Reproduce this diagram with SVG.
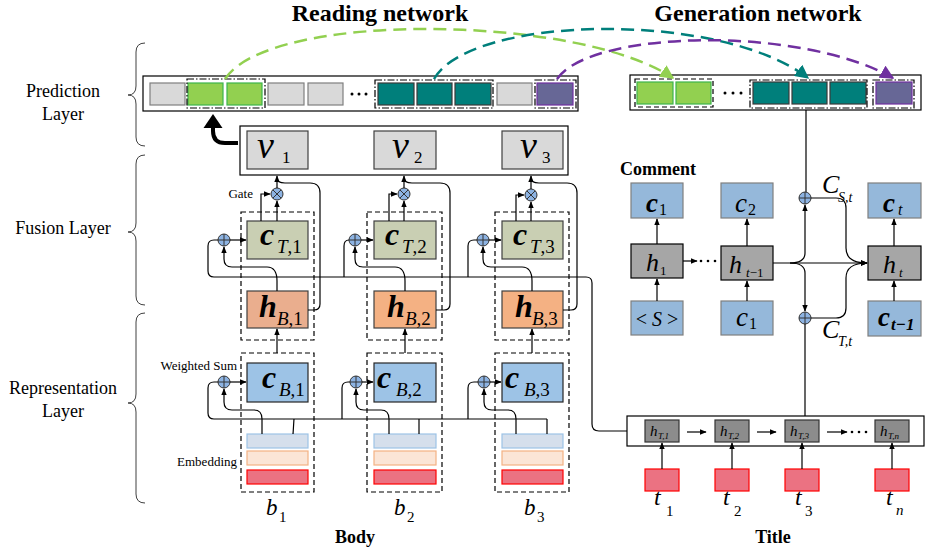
<svg xmlns="http://www.w3.org/2000/svg" width="925" height="553" viewBox="0 0 925 553" font-family="'Liberation Serif', 'Times New Roman', Times, 'DejaVu Serif', serif">
<style>
text{font-family:"Liberation Serif","Times New Roman",Times,"DejaVu Serif",serif;fill:#000}
.h1{font-size:24px;font-weight:bold;text-anchor:middle}
.lay{font-size:18px;text-anchor:middle}
.sm{font-size:13px;text-anchor:end}
.it{font-style:italic}
.bi{font-style:italic;font-weight:bold}
.ln{fill:none;stroke:#000;stroke-width:1.2}
.arw{fill:none;stroke:#000;stroke-width:1.2;marker-end:url(#ah)}
.cg{fill:#d9d9d9;stroke:#7f7f7f;stroke-width:1.2}
.cgr{fill:#92d050;stroke:#3cb54a;stroke-width:1.2}
.ctl{fill:#007f7b;stroke:#3a3a3a;stroke-width:1.2}
.cp{fill:#676796;stroke:#7030a0;stroke-width:1.2}
.dd{fill:none;stroke:#000;stroke-width:1.2;stroke-dasharray:7 2 1.5 2}
.dash{fill:none;stroke:#000;stroke-width:1.2;stroke-dasharray:5 3}
.vbox{fill:#d9d9d9;stroke:#404040;stroke-width:1.2}
.ct{fill:#c9cfb3;stroke:#404040;stroke-width:1.2}
.hb{fill:#f4b183;stroke:#404040;stroke-width:1.2}
.cb{fill:#9dc3e6;stroke:#262626;stroke-width:1.2}
.e1{fill:#d5dfec;stroke:#9dc3e6;stroke-width:1.2}
.e2{fill:#fbe5d6;stroke:#f4b183;stroke-width:1.2}
.e3{fill:#eb7282;stroke:#ff0000;stroke-width:1.2}
.bl{fill:#95b8da;stroke:#7f7f7f;stroke-width:1.2}
.hg{fill:#a6a6a6;stroke:#000;stroke-width:1.2}
.ht{fill:#8c8c8c;stroke:#333;stroke-width:1.2}
.brace{fill:none;stroke:#404040;stroke-width:1}
.arc{fill:none;stroke-width:2.5;stroke-dasharray:13 7}
</style>
<defs>
<marker id="ah" viewBox="0 0 10 10" refX="9" refY="5" markerWidth="7" markerHeight="7" markerUnits="userSpaceOnUse" orient="auto"><path d="M0,1 L10,5 L0,9z" fill="#000"/></marker>
<marker id="agr" viewBox="0 0 10 10" refX="9" refY="5" markerWidth="14" markerHeight="14" markerUnits="userSpaceOnUse" orient="auto"><path d="M0,0 L10,5 L0,10z" fill="#92d050"/></marker>
<marker id="atl" viewBox="0 0 10 10" refX="9" refY="5" markerWidth="14" markerHeight="14" markerUnits="userSpaceOnUse" orient="auto"><path d="M0,0 L10,5 L0,10z" fill="#007f7b"/></marker>
<marker id="apu" viewBox="0 0 10 10" refX="9" refY="5" markerWidth="14" markerHeight="14" markerUnits="userSpaceOnUse" orient="auto"><path d="M0,0 L10,5 L0,10z" fill="#7030a0"/></marker>
<g id="op"><circle r="6" fill="#8db3e2" stroke="#333" stroke-width="1"/><path d="M-6,0H6M0,-6V6" stroke="#333" stroke-width="1"/></g>
<g id="ox"><circle r="6" fill="#8db3e2" stroke="#333" stroke-width="1"/><path d="M-4.2,-4.2L4.2,4.2M-4.2,4.2L4.2,-4.2" stroke="#333" stroke-width="1"/></g>
</defs>
<rect width="925" height="553" fill="#fff"/>

<g id="titles">
<text class="h1" x="380" y="21">Reading network</text>
<text class="h1" x="758" y="21">Generation network</text>
</g>

<g id="layer-labels">
<text class="lay" x="63" y="97">Prediction</text>
<text class="lay" x="63" y="120">Layer</text>
<text class="lay" x="63" y="234">Fusion Layer</text>
<text class="lay" x="63" y="394">Representation</text>
<text class="lay" x="63" y="417">Layer</text>
<path class="brace" d="M145,43 Q136,43 136,52 V86 Q136,95 128,95 Q136,95 136,104 V137 Q136,146 145,146"/>
<path class="brace" d="M145,155 Q136,155 136,164 V223 Q136,232 128,232 Q136,232 136,241 V296 Q136,305 145,305"/>
<path class="brace" d="M145,313 Q136,313 136,322 V394 Q136,403 128,403 Q136,403 136,412 V494 Q136,503 145,503"/>
</g>

<g id="pred-read">
<rect x="143" y="76" width="435" height="35" fill="#fff" stroke="#000" stroke-width="1.2"/>
<rect class="cg" x="150" y="83" width="35" height="22"/>
<rect class="cgr" x="188" y="83" width="35" height="22"/>
<rect class="cgr" x="227" y="83" width="35" height="22"/>
<rect class="dd" x="187" y="79" width="78" height="29"/>
<rect class="cg" x="268" y="83" width="36" height="22"/>
<rect class="cg" x="308" y="83" width="35" height="22"/>
<circle cx="352" cy="94" r="1.5"/><circle cx="359" cy="94" r="1.5"/><circle cx="366" cy="94" r="1.5"/>
<rect class="ctl" x="378" y="83" width="36" height="22"/>
<rect class="ctl" x="417" y="83" width="35" height="22"/>
<rect class="ctl" x="455" y="83" width="36" height="22"/>
<rect class="dd" x="375" y="80" width="118" height="28"/>
<rect class="cg" x="497" y="83" width="35" height="22"/>
<rect class="cp" x="537" y="83" width="36" height="22"/>
<rect class="dd" x="535" y="80" width="41" height="28"/>
</g>

<g id="pred-gen">
<rect x="630" y="75" width="291" height="35" fill="#fff" stroke="#000" stroke-width="1.2"/>
<rect class="cgr" x="637" y="82" width="36" height="22"/>
<rect class="cgr" x="676" y="82" width="35" height="22"/>
<rect class="dash" x="635" y="79" width="78" height="28"/>
<circle cx="725" cy="93" r="1.5"/><circle cx="733" cy="93" r="1.5"/><circle cx="741" cy="93" r="1.5"/>
<rect class="ctl" x="753" y="82" width="36" height="22"/>
<rect class="ctl" x="792" y="82" width="35" height="22"/>
<rect class="ctl" x="830" y="82" width="36" height="22"/>
<rect class="dd" x="750" y="80" width="117" height="28"/>
<rect class="cp" x="876" y="82" width="36" height="22"/>
<rect class="dd" x="873" y="80" width="41" height="28"/>
</g>

<g id="fusion-output">
<rect x="240" y="126" width="328" height="49" fill="#fff" stroke="#000" stroke-width="1.2"/>
</g>

<g id="col1">
<rect class="vbox" x="247" y="131" width="61" height="38"/>
<text class="it" x="257" y="158" font-size="38">v</text><text x="282" y="163" font-size="17">1</text>
<rect class="dash" x="241" y="212" width="73" height="128"/>
<rect class="ct" x="247" y="221" width="61" height="38"/>
<text class="bi" x="260" y="245" font-size="32">c</text><text x="277" y="253" font-size="19"><tspan class="it">T</tspan>,1</text>
<rect class="hb" x="247" y="291" width="61" height="37" style="fill:#eaae8e"/>
<text class="bi" x="259" y="317" font-size="32">h</text><text x="277" y="325" font-size="19"><tspan class="it">B</tspan>,1</text>
<rect class="dash" x="241" y="353" width="73" height="139"/>
<rect class="cb" x="247" y="363" width="61" height="39"/>
<text class="bi" x="262" y="388" font-size="32">c</text><text x="279" y="396" font-size="19"><tspan class="it">B</tspan>,1</text>
<rect class="e1" x="247" y="434" width="61" height="14"/>
<rect class="e2" x="247" y="451" width="61" height="14"/>
<rect class="e3" x="247" y="470" width="61" height="14"/>
<text class="it" x="266" y="515" font-size="23">b</text><text x="279" y="522" font-size="15">1</text>
</g>

<g id="col2">
<rect class="vbox" x="374" y="131" width="62" height="38"/>
<text class="it" x="392" y="158" font-size="38">v</text><text x="414" y="163" font-size="17">2</text>
<rect class="dash" x="367" y="212" width="75" height="128"/>
<rect class="ct" x="374" y="221" width="62" height="38"/>
<text class="bi" x="385" y="245" font-size="32">c</text><text x="402" y="253" font-size="19"><tspan class="it">T</tspan>,2</text>
<rect class="hb" x="374" y="291" width="62" height="37"/>
<text class="bi" x="387" y="317" font-size="32">h</text><text x="405" y="325" font-size="19"><tspan class="it">B</tspan>,2</text>
<rect class="dash" x="367" y="353" width="75" height="139"/>
<rect class="cb" x="374" y="363" width="62" height="39"/>
<text class="bi" x="377" y="388" font-size="32">c</text><text x="396" y="396" font-size="19"><tspan class="it">B</tspan>,2</text>
<rect class="e1" x="374" y="434" width="62" height="14"/>
<rect class="e2" x="374" y="451" width="62" height="14"/>
<rect class="e3" x="374" y="470" width="62" height="14"/>
<text class="it" x="394" y="515" font-size="23">b</text><text x="407" y="522" font-size="15">2</text>
</g>

<g id="col3">
<rect class="vbox" x="502" y="131" width="61" height="38"/>
<text class="it" x="520" y="158" font-size="38">v</text><text x="542" y="163" font-size="17">3</text>
<rect class="dash" x="495" y="212" width="74" height="128"/>
<rect class="ct" x="502" y="221" width="61" height="38"/>
<text class="bi" x="513" y="245" font-size="32">c</text><text x="530" y="253" font-size="19"><tspan class="it">T</tspan>,3</text>
<rect class="hb" x="502" y="291" width="61" height="37"/>
<text class="bi" x="515" y="317" font-size="32">h</text><text x="532" y="325" font-size="19"><tspan class="it">B</tspan>,3</text>
<rect class="dash" x="495" y="353" width="74" height="139"/>
<rect class="cb" x="502" y="363" width="61" height="39"/>
<text class="bi" x="505" y="388" font-size="32">c</text><text x="524" y="396" font-size="19"><tspan class="it">B</tspan>,3</text>
<rect class="e1" x="502" y="434" width="61" height="14"/>
<rect class="e2" x="502" y="451" width="61" height="14"/>
<rect class="e3" x="502" y="470" width="61" height="14"/>
<text class="it" x="524" y="515" font-size="23">b</text><text x="537" y="522" font-size="15">3</text>
</g>

<g id="side-labels">
<text class="sm" x="253" y="198">Gate</text>
<text class="sm" x="237" y="370">Weighted Sum</text>
<text class="sm" x="237" y="466">Embedding</text>
<text x="355" y="543" font-size="18" font-weight="bold" text-anchor="middle">Body</text>
<text x="773" y="543" font-size="18" font-weight="bold" text-anchor="middle">Title</text>
<text x="620" y="175" font-size="18" font-weight="bold">Comment</text>
</g>

<g id="comment">
<rect class="bl" x="631" y="183" width="52" height="35"/>
<text class="bi" x="646" y="212" font-size="27">c</text><text x="659" y="215" font-size="16">1</text>
<rect class="bl" x="721" y="183" width="52" height="35"/>
<text class="it" x="735" y="212" font-size="27">c</text><text x="748" y="215" font-size="16">2</text>
<rect class="bl" x="868" y="183" width="53" height="35"/>
<text class="bi" x="883" y="212" font-size="27">c</text><text class="it" x="898" y="215" font-size="16">t</text>
<rect class="hg" x="631" y="244" width="52" height="34"/>
<text class="it" x="646" y="271" font-size="26">h</text><text x="660" y="275" font-size="13">1</text>
<rect class="hg" x="721" y="246" width="52" height="34"/>
<text class="it" x="729" y="273" font-size="26">h</text><text x="746" y="277" font-size="13"><tspan class="it">t</tspan>−1</text>
<rect class="hg" x="868" y="246" width="53" height="34"/>
<text class="it" x="883" y="273" font-size="26">h</text><text class="it" x="899" y="277" font-size="13">t</text>
<rect class="bl" x="631" y="301" width="52" height="34"/>
<text x="657" y="326" font-size="20" text-anchor="middle">&lt; <tspan class="it">S</tspan> &gt;</text>
<rect class="bl" x="721" y="301" width="52" height="34"/>
<text class="it" x="736" y="326" font-size="27">c</text><text x="749" y="329" font-size="16">1</text>
<rect class="bl" x="868" y="301" width="53" height="35"/>
<text class="bi" x="878" y="326" font-size="27">c</text><text class="bi" x="891" y="330" font-size="17">t−1</text>
<text class="it" x="822" y="193" font-size="26">C</text><text class="it" x="838" y="202" font-size="14">S,t</text>
<text class="it" x="822" y="338" font-size="26">C</text><text class="it" x="838" y="346" font-size="14">T,t</text>
<circle cx="701" cy="261" r="1.3"/><circle cx="708" cy="261" r="1.3"/><circle cx="715" cy="261" r="1.3"/>
</g>

<g id="title-encoder">
<rect x="627" y="416" width="297" height="30" fill="#fff" stroke="#000" stroke-width="1.2"/>
<rect class="ht" x="645" y="420" width="34" height="22"/>
<text class="it" x="650" y="436" font-size="15" fill="#333">h</text><text class="it" x="658" y="439" font-size="9" fill="#333">T,1</text>
<rect class="ht" x="715" y="420" width="34" height="22"/>
<text class="it" x="720" y="436" font-size="15" fill="#333">h</text><text class="it" x="728" y="439" font-size="9" fill="#333">T,2</text>
<rect class="ht" x="785" y="420" width="34" height="22"/>
<text class="it" x="790" y="436" font-size="15" fill="#333">h</text><text class="it" x="798" y="439" font-size="9" fill="#333">T,3</text>
<rect class="ht" x="875" y="420" width="34" height="22"/>
<text class="it" x="880" y="436" font-size="15" fill="#333">h</text><text class="it" x="888" y="439" font-size="9" fill="#333">T,n</text>
<circle cx="852" cy="432" r="1.3"/><circle cx="859" cy="432" r="1.3"/><circle cx="866" cy="432" r="1.3"/>
<rect class="e3" x="645" y="469" width="34" height="22"/>
<rect class="e3" x="715" y="469" width="34" height="22"/>
<rect class="e3" x="785" y="469" width="34" height="22"/>
<rect class="e3" x="875" y="469" width="34" height="22"/>
<text class="it" x="654" y="505" font-size="24">t</text><text x="666" y="516" font-size="15">1</text>
<text class="it" x="723" y="505" font-size="24">t</text><text x="734" y="516" font-size="15">2</text>
<text class="it" x="795" y="505" font-size="24">t</text><text x="805" y="516" font-size="15">3</text>
<text class="it" x="886" y="505" font-size="24">t</text><text class="it" x="896" y="515" font-size="15">n</text>
</g>

<g id="connectors">
<path class="arc" stroke="#92d050" d="M225,79 C270,10 580,15 673,78" marker-end="url(#agr)"/>
<path class="arc" stroke="#007f7b" d="M434,79 C470,15 720,10 808,78" marker-end="url(#atl)"/>
<path class="arc" stroke="#7030a0" d="M557,79 C590,30 800,25 893,78" marker-end="url(#apu)"/>
<path d="M238,143 H225 Q213,143 213,131 V126" fill="none" stroke="#000" stroke-width="4"/>
<polygon points="213,114 203.5,128 222.5,128" fill="#000"/>

<use href="#ox" x="277" y="194"/><use href="#ox" x="404" y="194"/><use href="#ox" x="531" y="195"/>
<use href="#op" x="224" y="240"/><use href="#op" x="355" y="240"/><use href="#op" x="483" y="240"/>
<path class="ln" d="M218,240 H214 Q208,240 208,246 V271 Q208,277 214,277 H586 Q592,277 592,283 V424 Q592,431 599,431 H627"/>
<path class="ln" d="M344,277 V246 Q344,240 349,240"/>
<path class="ln" d="M468,277 V246 Q468,240 474,240 H477"/>
<path class="arw" d="M230,240 H246"/><path class="arw" d="M361,240 H373"/><path class="arw" d="M489,240 H501"/>
<path class="arw" d="M277,291 V281 Q277,267 267,267 H232 Q224,267 224,259 V247"/>
<path class="arw" d="M405,291 V281 Q405,267 395,267 H363 Q355,267 355,259 V247"/>
<path class="arw" d="M532,291 V281 Q532,267 522,267 H491 Q483,267 483,259 V247"/>
<path class="arw" d="M261,221 V194 H270"/><path class="arw" d="M389,221 V194 H397"/><path class="arw" d="M516,221 V195 H524"/>
<path class="arw" d="M277,221 V201"/><path class="arw" d="M404,221 V201"/><path class="arw" d="M531,221 V202"/>
<path class="arw" d="M277,188 V176"/><path class="arw" d="M404,188 V176"/><path class="arw" d="M531,189 V176"/>
<path class="ln" d="M308,310 H314 Q320,310 320,304 V193 Q320,183 310,183 H285 Q277,183 277,178"/>
<path class="ln" d="M436,310 H444 Q450,310 450,304 V193 Q450,183 440,183 H412 Q404,183 404,178"/>
<path class="ln" d="M563,310 H571 Q577,310 577,304 V193 Q577,183 567,183 H539 Q531,183 531,178"/>

<use href="#op" x="224" y="382"/><use href="#op" x="356" y="382"/><use href="#op" x="484" y="382"/>
<path class="ln" d="M218,382 H214 Q208,382 208,388 V413 Q208,419 214,419 H547"/>
<path class="ln" d="M342,419 V388 Q342,382 348,382 H350"/>
<path class="ln" d="M468,419 V388 Q468,382 474,382 H478"/>
<path class="arw" d="M230,382 H246"/><path class="arw" d="M362,382 H373"/><path class="arw" d="M490,382 H501"/>
<path class="arw" d="M262,434 V419 Q262,410 254,410 H232 Q224,410 224,402 V389"/>
<path class="arw" d="M389,434 V419 Q389,410 381,410 H364 Q356,410 356,402 V389"/>
<path class="arw" d="M516,434 V419 Q516,410 508,410 H492 Q484,410 484,402 V389"/>
<path class="ln" d="M293,434 L294,419"/><path class="ln" d="M419,434 V419"/><path class="ln" d="M547,434 V419"/>
<path class="arw" d="M277,353 V329"/><path class="arw" d="M405,353 V329"/><path class="arw" d="M532,353 V329"/>

<path class="ln" d="M806,110 V192"/>
<use href="#op" x="805" y="198"/><use href="#op" x="805" y="318"/>
<path class="arw" d="M773,263 H867"/>
<path class="arw" d="M790,263 Q805,263 805,253 V205"/>
<path class="arw" d="M790,263 Q805,263 805,273 V311"/>
<path class="ln" d="M805,324 V416"/>
<path class="arw" d="M811,198 H836 Q846,198 846,208 V248 Q846,263 867,263"/>
<path class="arw" d="M811,318 H836 Q846,318 846,308 V278 Q846,263 867,263"/>
<path class="arw" d="M683,261 H697"/>
<path class="arw" d="M657,301 V279"/><path class="arw" d="M657,244 V219"/>
<path class="arw" d="M747,301 V281"/><path class="arw" d="M747,246 V219"/>
<path class="arw" d="M894,301 V281"/><path class="arw" d="M894,246 V219"/>
<path class="arw" d="M687,432 H706"/><path class="arw" d="M757,432 H776"/><path class="arw" d="M827,432 H847"/>
<path class="arw" d="M662,469 V443"/><path class="arw" d="M732,469 V443"/><path class="arw" d="M802,469 V443"/><path class="arw" d="M892,469 V443"/>
</g>
</svg>
